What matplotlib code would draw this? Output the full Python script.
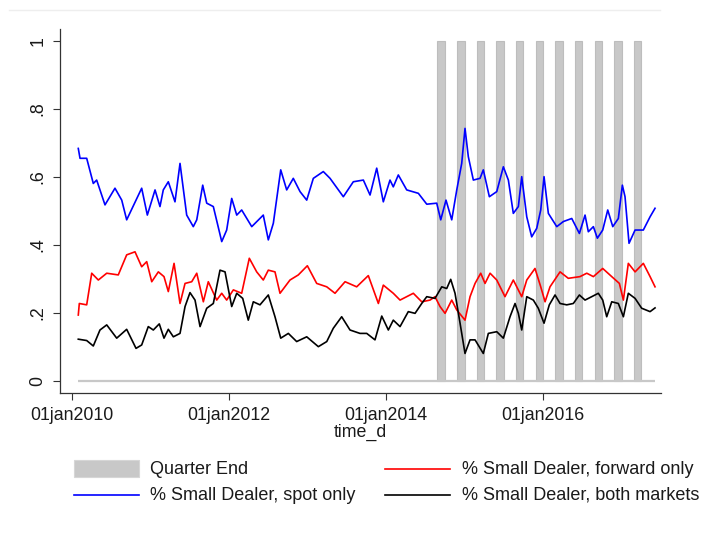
import matplotlib
matplotlib.use('Agg')
import matplotlib.pyplot as plt
import numpy as np
import pandas as pd
from matplotlib.patches import Rectangle
from matplotlib.lines import Line2D

plt.rcParams['font.family'] = ['Liberation Sans', 'DejaVu Sans']

# ---------------- data (time in years since 01jan2010) ----------------
spot_t = [0.080, 0.102, 0.187, 0.271, 0.314, 0.420, 0.547, 0.633, 0.696, 0.887,
          0.959, 1.057, 1.120, 1.162, 1.226, 1.311, 1.375, 1.460, 1.544, 1.588,
          1.664, 1.715, 1.799, 1.906, 1.969, 2.033, 2.097, 2.160, 2.288, 2.435,
          2.499, 2.563, 2.657, 2.733, 2.817, 2.903, 2.988, 3.072, 3.199, 3.285,
          3.454, 3.581, 3.709, 3.794, 3.879, 3.963, 4.048, 4.090, 4.154, 4.261,
          4.409, 4.516, 4.643, 4.694, 4.761, 4.834, 4.898, 4.961, 5.003, 5.045,
          5.109, 5.194, 5.236, 5.313, 5.407, 5.491, 5.555, 5.618, 5.682, 5.725,
          5.789, 5.852, 5.916, 5.967, 6.009, 6.064, 6.171, 6.255, 6.362, 6.459,
          6.531, 6.573, 6.637, 6.688, 6.756, 6.820, 6.884, 6.955, 7.006, 7.040,
          7.091, 7.168, 7.273, 7.359, 7.422]
spot_v = [0.684, 0.655, 0.655, 0.581, 0.591, 0.518, 0.567, 0.532, 0.474, 0.567,
          0.488, 0.562, 0.513, 0.562, 0.586, 0.527, 0.640, 0.488, 0.454, 0.474,
          0.576, 0.523, 0.513, 0.410, 0.444, 0.537, 0.488, 0.503, 0.454, 0.488,
          0.415, 0.464, 0.621, 0.562, 0.596, 0.557, 0.532, 0.596, 0.616, 0.596,
          0.542, 0.586, 0.591, 0.547, 0.626, 0.527, 0.591, 0.571, 0.606, 0.562,
          0.552, 0.520, 0.523, 0.474, 0.532, 0.474, 0.562, 0.640, 0.743, 0.660,
          0.591, 0.596, 0.621, 0.542, 0.557, 0.630, 0.591, 0.493, 0.513, 0.601,
          0.483, 0.424, 0.449, 0.503, 0.601, 0.493, 0.454, 0.469, 0.478, 0.434,
          0.488, 0.439, 0.454, 0.420, 0.444, 0.503, 0.454, 0.478, 0.576, 0.542,
          0.405, 0.444, 0.444, 0.483, 0.508]

fwd_t = [0.080, 0.093, 0.187, 0.251, 0.335, 0.442, 0.589, 0.696, 0.802, 0.887,
         0.951, 1.015, 1.099, 1.171, 1.226, 1.299, 1.375, 1.439, 1.524, 1.588,
         1.672, 1.735, 1.842, 1.906, 1.969, 2.054, 2.160, 2.257, 2.351, 2.435,
         2.499, 2.584, 2.648, 2.775, 2.881, 2.996, 3.115, 3.243, 3.348, 3.476,
         3.624, 3.772, 3.900, 3.963, 4.090, 4.176, 4.345, 4.452, 4.558, 4.621,
         4.685, 4.749, 4.834, 4.898, 5.003, 5.067, 5.131, 5.203, 5.258, 5.322,
         5.407, 5.512, 5.618, 5.725, 5.789, 5.894, 5.967, 6.022, 6.085, 6.213,
         6.318, 6.467, 6.553, 6.637, 6.756, 6.871, 6.968, 7.019, 7.082, 7.168,
         7.273, 7.359, 7.422]
fwd_v = [0.194, 0.228, 0.224, 0.317, 0.297, 0.317, 0.312, 0.371, 0.380, 0.336,
         0.351, 0.292, 0.321, 0.307, 0.263, 0.346, 0.228, 0.287, 0.292, 0.317,
         0.233, 0.292, 0.238, 0.258, 0.238, 0.268, 0.258, 0.361, 0.321, 0.297,
         0.326, 0.321, 0.258, 0.297, 0.312, 0.339, 0.287, 0.277, 0.258, 0.292,
         0.277, 0.310, 0.228, 0.282, 0.258, 0.238, 0.258, 0.233, 0.238, 0.248,
         0.219, 0.199, 0.238, 0.209, 0.179, 0.248, 0.287, 0.317, 0.287, 0.317,
         0.297, 0.248, 0.297, 0.248, 0.297, 0.331, 0.277, 0.233, 0.277, 0.321,
         0.302, 0.307, 0.317, 0.307, 0.331, 0.307, 0.287, 0.238, 0.346, 0.321,
         0.346, 0.307, 0.277]

both_t = [0.080, 0.187, 0.271, 0.356, 0.442, 0.569, 0.696, 0.815, 0.887, 0.971,
          1.035, 1.111, 1.171, 1.226, 1.290, 1.375, 1.439, 1.502, 1.566, 1.630,
          1.715, 1.799, 1.884, 1.948, 2.033, 2.097, 2.173, 2.244, 2.308, 2.393,
          2.499, 2.584, 2.657, 2.754, 2.860, 2.988, 3.136, 3.243, 3.326, 3.433,
          3.539, 3.666, 3.752, 3.857, 3.943, 4.027, 4.090, 4.176, 4.281, 4.367,
          4.452, 4.516, 4.621, 4.707, 4.770, 4.821, 4.876, 4.940, 5.003, 5.067,
          5.131, 5.236, 5.300, 5.407, 5.491, 5.576, 5.640, 5.682, 5.725, 5.789,
          5.873, 5.936, 6.009, 6.076, 6.149, 6.213, 6.298, 6.382, 6.459, 6.531,
          6.616, 6.700, 6.756, 6.807, 6.871, 6.955, 7.019, 7.082, 7.168, 7.252,
          7.359, 7.422]
both_v = [0.123, 0.119, 0.103, 0.150, 0.165, 0.126, 0.152, 0.096, 0.106, 0.160,
          0.150, 0.168, 0.126, 0.152, 0.130, 0.140, 0.219, 0.260, 0.238, 0.160,
          0.214, 0.228, 0.326, 0.321, 0.219, 0.258, 0.243, 0.179, 0.233, 0.224,
          0.253, 0.189, 0.126, 0.140, 0.116, 0.130, 0.101, 0.116, 0.155, 0.189,
          0.150, 0.140, 0.140, 0.121, 0.191, 0.150, 0.179, 0.160, 0.204, 0.199,
          0.228, 0.248, 0.243, 0.277, 0.272, 0.299, 0.258, 0.170, 0.081, 0.121,
          0.121, 0.081, 0.140, 0.145, 0.126, 0.189, 0.228, 0.199, 0.150, 0.248,
          0.238, 0.214, 0.170, 0.224, 0.253, 0.228, 0.224, 0.228, 0.253, 0.238,
          0.248, 0.258, 0.238, 0.189, 0.233, 0.228, 0.189, 0.258, 0.243, 0.214,
          0.204, 0.215]

quarter_ends = ['2014-09-30', '2014-12-31', '2015-03-31', '2015-06-30',
                '2015-09-30', '2015-12-31', '2016-03-31', '2016-06-30',
                '2016-09-30', '2016-12-31', '2017-03-31']

y_ticks = [0, 0.2, 0.4, 0.6, 0.8, 1.0]
y_labels = ['0', '.2', '.4', '.6', '.8', '1']
x_ticks = ['2010-01-01', '2012-01-01', '2014-01-01', '2016-01-01']
x_labels = ['01jan2010', '01jan2012', '01jan2014', '01jan2016']

legend_labels = ['Quarter End', '% Small Dealer, spot only',
                 '% Small Dealer, forward only', '% Small Dealer, both markets']

# ---------------- helpers ----------------
BASE = pd.Timestamp('2010-01-01')


def to_dates(t):
    return BASE + pd.to_timedelta(np.asarray(t) * 365.25, unit='D')


W, H = 726, 533
fig = plt.figure(figsize=(W / 100, H / 100), dpi=100)
fig.patch.set_facecolor('white')


def fx(px):
    return px / W


def fy(py):
    return 1 - py / H


ax = fig.add_axes([fx(60.3), fy(392.7), fx(661) - fx(60.3), fy(29.3) - fy(392.7)])

BAR_GRAY = '#c8c8c8'
BAR_EDGE = '#bdbdbd'
TXT = '#1a1a1a'
FS = 12.8

# quarter-end bars
qe = pd.to_datetime(quarter_ends)
starts = qe - pd.Timedelta(days=34)
ax.bar(starts, [1.0] * len(qe), width=35, align='edge', color=BAR_GRAY,
       edgecolor=BAR_EDGE, linewidth=0.8, zorder=1)
# zero-height bars show as a gray baseline across the sample
d_spot = to_dates(spot_t)
ax.plot([d_spot[0], d_spot[-1]], [0, 0], color=BAR_GRAY, lw=1.6, zorder=1,
        solid_capstyle='butt')

ax.plot(d_spot, spot_v, color='#0000ff', lw=1.2, zorder=3)
ax.plot(to_dates(fwd_t), fwd_v, color='#ff0000', lw=1.2, zorder=3)
ax.plot(to_dates(both_t), both_v, color='#000000', lw=1.2, zorder=4)

ax.set_xlim(BASE + pd.Timedelta(days=-0.149 * 365.25), BASE + pd.Timedelta(days=7.498 * 365.25))
ax.set_ylim(-0.0344, 1.0344)

ax.set_yticks(y_ticks)
ax.set_yticklabels(y_labels, rotation=90, va='center', fontsize=FS)
ax.set_xticks(pd.to_datetime(x_ticks))
ax.set_xticklabels(x_labels, fontsize=FS)
ax.set_xlabel('time_d', fontsize=FS, labelpad=0.5, color=TXT)

for s in ['top', 'right']:
    ax.spines[s].set_visible(False)
for s in ['left', 'bottom']:
    ax.spines[s].set_color('#333333')
    ax.spines[s].set_linewidth(0.9)
ax.tick_params(axis='both', length=5, width=0.8, color='#333333', labelcolor=TXT)
ax.tick_params(axis='y', pad=5)
ax.tick_params(axis='x', pad=5)

# faint outer frame line at top
fig.add_artist(Line2D([fx(9), fx(660)], [fy(10), fy(10)], color='#eeeeee', lw=1))

# ---------------- legend (manual, two columns) ----------------
row1, row2 = 469, 495
fs_leg = 13
fig.add_artist(Rectangle((fx(74), fy(477)), fx(139) - fx(74), fy(460) - fy(477),
                         facecolor=BAR_GRAY, edgecolor='#d6d6d6', lw=0.8))
fig.text(fx(150), fy(row1), legend_labels[0], fontsize=fs_leg, va='center', ha='left', color=TXT)
fig.add_artist(Line2D([fx(74), fx(139)], [fy(row2), fy(row2)], color='#0000ff', lw=1.2))
fig.text(fx(150), fy(row2), legend_labels[1], fontsize=fs_leg, va='center', ha='left', color=TXT)
fig.add_artist(Line2D([fx(385), fx(450)], [fy(row1), fy(row1)], color='#ff0000', lw=1.2))
fig.text(fx(462), fy(row1), legend_labels[2], fontsize=fs_leg, va='center', ha='left', color=TXT)
fig.add_artist(Line2D([fx(385), fx(450)], [fy(row2), fy(row2)], color='#000000', lw=1.2))
fig.text(fx(462), fy(row2), legend_labels[3], fontsize=fs_leg, va='center', ha='left', color=TXT)

fig.savefig('out.png', dpi=100)
